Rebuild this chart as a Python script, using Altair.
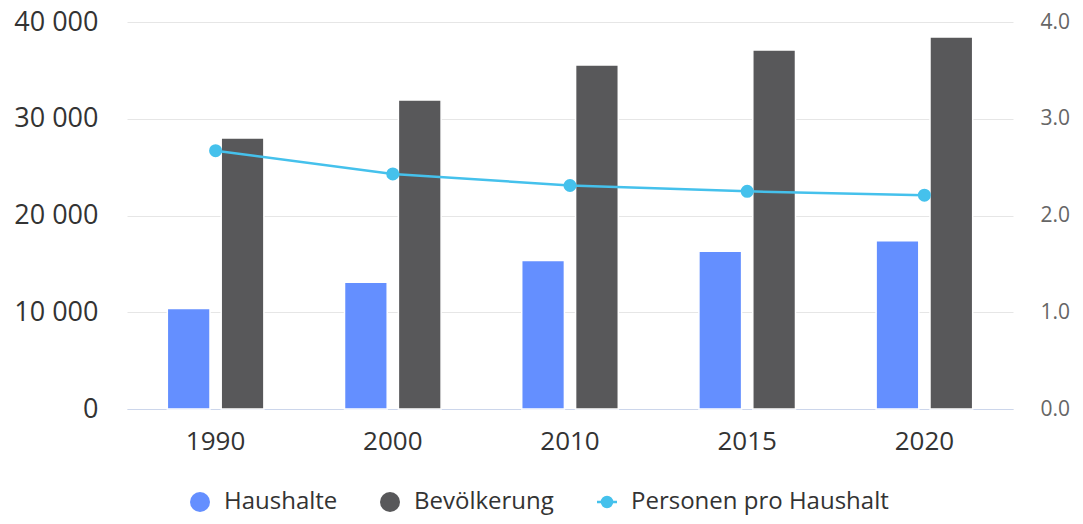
import altair as alt
import pandas as pd

years = ["1990", "2000", "2010", "2015", "2020"]
haushalte = [10400, 13100, 15350, 16300, 17400]
bevoelkerung = [28000, 31950, 35550, 37100, 38450]
personen = [2.67, 2.43, 2.31, 2.25, 2.21]

series_bars = ["Haushalte", "Bevölkerung"]
line_name = "Personen pro Haushalt"
bar_colors = ["#648fff", "#58585a"]
line_color = "#45c1ec"

bars_df = pd.DataFrame({
    "Jahr": years * 2,
    "Serie": [series_bars[0]] * len(years) + [series_bars[1]] * len(years),
    "Wert": haushalte + bevoelkerung,
})
line_df = pd.DataFrame({"Jahr": years, "Serie": [line_name] * len(years), "Wert": personen})

FONT = "Open Sans"

x_enc = alt.X(
    "Jahr:N", sort=years,
    scale=alt.Scale(paddingInner=0.455, paddingOuter=0.2275),
    axis=alt.Axis(title=None, labelAngle=0, labelFontSize=26, labelColor="#333333",
                  labelPadding=19, ticks=False, domainColor="#ccd6eb", domainWidth=1,
                  grid=False, labelFont=FONT),
)

bars = alt.Chart(bars_df).mark_bar(stroke="white", strokeWidth=1.5).encode(
    x=x_enc,
    xOffset=alt.XOffset("Serie:N", sort=series_bars,
                        scale=alt.Scale(domain=series_bars, paddingInner=0.2075, paddingOuter=0)),
    y=alt.Y("Wert:Q", scale=alt.Scale(domain=[0, 40000], nice=False),
            axis=alt.Axis(title=None, orient="left", values=[0, 10000, 20000, 30000, 40000],
                          labelExpr="replace(format(datum.value, ','), ',', ' ')",
                          grid=True, gridColor="#e6e6e6", gridWidth=1, domain=False, ticks=False,
                          labelPadding=29, labelFontSize=27, labelColor="#333333", labelFont=FONT)),
    color=alt.Color("Serie:N", scale=alt.Scale(domain=series_bars, range=bar_colors),
                    legend=alt.Legend(title=None, orient="none", legendX=61, legendY=468,
                                      direction="horizontal", symbolType="circle", symbolSize=400,
                                      symbolStrokeWidth=0, labelFontSize=24, labelColor="#333333",
                                      labelFont=FONT, columnPadding=40, labelOffset=12,
                                      labelLimit=500)),
)

line = alt.Chart(line_df).mark_line(
    strokeWidth=2.5, color=line_color,
    point=alt.OverlayMarkDef(size=170, filled=True, opacity=1, color=line_color),
).encode(
    x=x_enc,
    y=alt.Y("Wert:Q", scale=alt.Scale(domain=[0, 4], nice=False),
            axis=alt.Axis(title=None, orient="right", values=[0, 1, 2, 3, 4], format=".1f",
                          grid=False, domain=False, ticks=False, labelPadding=27,
                          labelFontSize=21, labelColor="#666666", labelFont=FONT)),
    color=alt.Color("Serie:N", scale=alt.Scale(domain=[line_name], range=[line_color]),
                    legend=alt.Legend(title=None, orient="none", legendX=468, legendY=468,
                                      symbolType="M-1,0L1,0M-0.5,0A0.5,0.5,0,1,1,0.5,0A0.5,0.5,0,1,1,-0.5,0",
                                      symbolSize=400, symbolStrokeWidth=2.5,
                                      symbolFillColor=line_color, symbolStrokeColor=line_color,
                                      labelFontSize=24, labelColor="#333333", labelFont=FONT,
                                      labelOffset=12, labelLimit=500)),
)

chart = alt.layer(bars, line).resolve_scale(
    y="independent", color="independent"
).properties(
    width=886, height=387,
    autosize=alt.AutoSizeParams(type="none"),
    padding={"left": 119, "top": 14, "right": 62, "bottom": 107},
    background="white",
).configure_view(stroke=None)

chart.save("out.html", embed_options={"renderer": "svg", "actions": False})
